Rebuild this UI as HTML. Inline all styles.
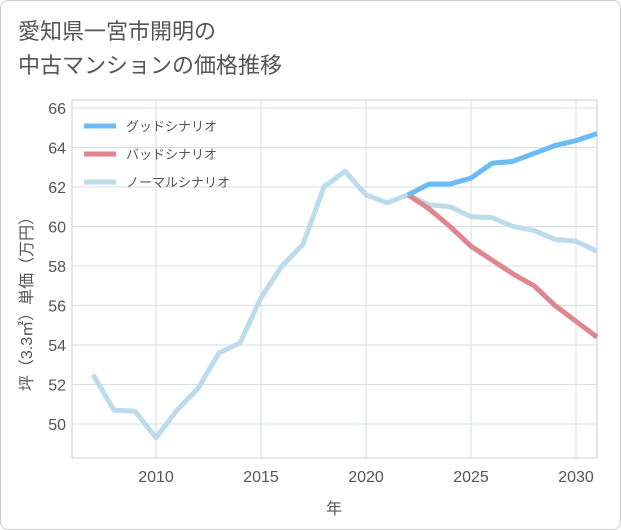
<!DOCTYPE html>
<html><head><meta charset="utf-8"><style>
body{margin:0;background:#fff;font-family:"Liberation Sans","Noto Sans CJK JP",sans-serif;}
</style></head><body>
<div style="position:absolute;left:0;top:0;width:619px;height:528px;border:1px solid #ccc;border-radius:8px;background:#fff;">
<div style="position:absolute;left:17px;top:14px;font-size:22px;line-height:34px;color:#555;">愛知県一宮市開明の<br>中古マンションの価格推移</div>
</div>
<svg id="chart" width="621" height="530" style="position:absolute;left:0;top:0;font-family:'Liberation Sans','Noto Sans CJK JP',sans-serif;"></svg>
<script>
const years=[2007,2008,2009,2010,2011,2012,2013,2014,2015,2016,2017,2018,2019,2020,2021,2022,2023,2024,2025,2026,2027,2028,2029,2030,2031];
const normal=[52.5,50.7,50.65,49.3,50.7,51.8,53.6,54.1,56.4,58.0,59.1,62.0,62.8,61.6,61.2,61.6,61.1,61.0,60.5,60.45,60.0,59.8,59.35,59.25,58.75];
const scenYears=[2022,2023,2024,2025,2026,2027,2028,2029,2030,2031];
const good=[61.6,62.15,62.15,62.45,63.2,63.3,63.7,64.1,64.35,64.7];
const bad=[61.6,60.9,60.0,59.0,58.3,57.6,57.0,56.0,55.2,54.4];
const xTicks=[2010,2015,2020,2025,2030];
const yTicks=[50,52,54,56,58,60,62,64,66];
const legendLabels=["グッドシナリオ","バッドシナリオ","ノーマルシナリオ"];
const legendColors=["#6bbcf5","#e0868e","#bcdcec"];
const L=72,R=597,T=100,B=458;
const x=v=>156+(v-2010)*21;
const y=v=>108+(66-v)*19.75;
const svg=document.getElementById('chart');
const NS='http://www.w3.org/2000/svg';
function mk(t,a,p){const e=document.createElementNS(NS,t);for(const k in a)e.setAttribute(k,a[k]);(p||svg).appendChild(e);return e;}
const bg=mk('rect',{x:L,y:T,width:R-L,height:B-T,fill:'#fff',stroke:'#ccc'});


xTicks.forEach(t=>{
 const g=mk('line',{x1:x(t),x2:x(t),y1:T,y2:B,stroke:'#d5dde5'});
 
 
 const tx=mk('text',{x:x(t),y:482,'text-anchor':'middle','font-size':16,fill:'#555'});tx.textContent=t;
 
 
});
yTicks.forEach(t=>{
 const g=mk('line',{x1:L,x2:R,y1:y(t),y2:y(t),stroke:'#d5dde5'});
 
 
 const tx=mk('text',{x:66,y:y(t)+6,'text-anchor':'end','font-size':16,fill:'#555'});tx.textContent=t;
 
 
});
const xt=mk('text',{x:334,y:514,'text-anchor':'middle','font-size':16,fill:'#555'});xt.textContent='年';


const yt=mk('text',{x:0,y:0,'text-anchor':'middle','font-size':16,fill:'#555',transform:'translate(32,300) rotate(-90)'});yt.textContent='坪（3.3㎡）単価（万円）';


function line(xs,vs,c,name){
 const p=mk('polyline',{points:xs.map((v,i)=>x(v)+','+y(vs[i])).join(' '),fill:'none',stroke:c,'stroke-width':5,'stroke-linejoin':'round'});
 
 
}
line(years,normal,legendColors[2],'normal-scenario-line');
line(scenYears,bad,legendColors[1],'bad-scenario-line');
line(scenYears,good,legendColors[0],'good-scenario-line');
legendLabels.forEach((lab,i)=>{
 const yy=126+i*28;
 const l=mk('line',{x1:84,x2:116,y1:yy,y2:yy,stroke:legendColors[i],'stroke-width':5});
 
 
 const t=mk('text',{x:126,y:yy+5,'font-size':13,fill:'#555'});t.textContent=lab;
 
 
});
</script>
</body></html>
